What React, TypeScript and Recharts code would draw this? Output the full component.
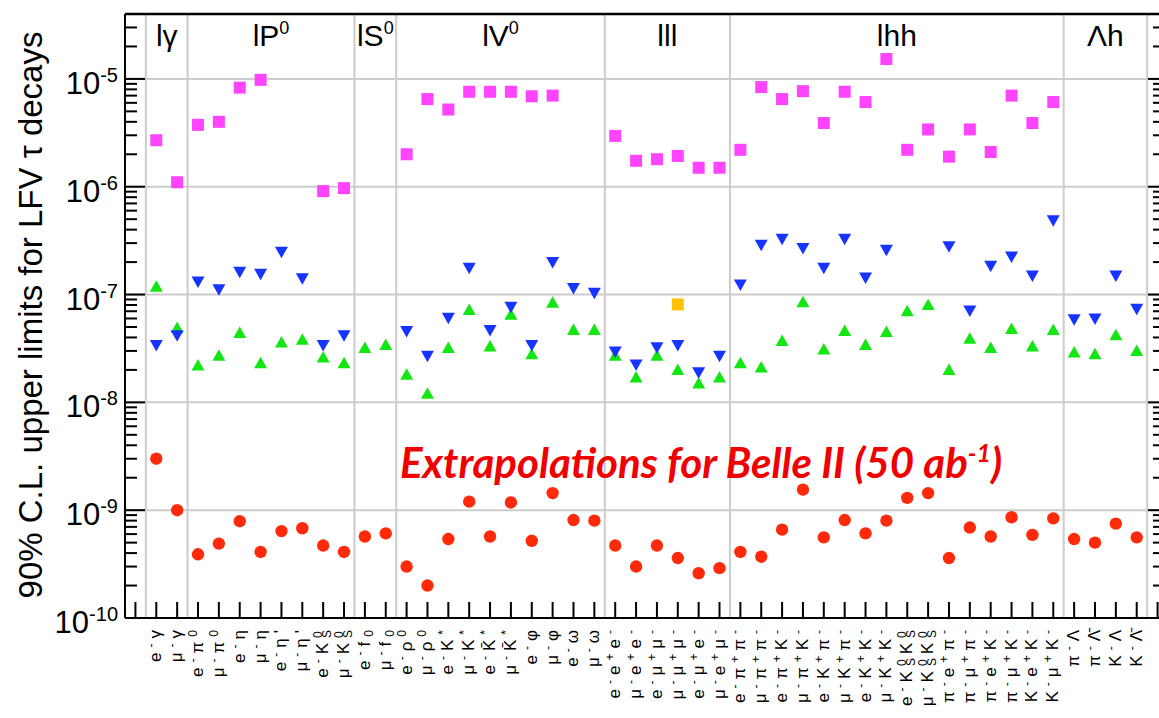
import React from "react";
import { ScatterChart, Scatter, XAxis, YAxis, ReferenceLine } from "recharts";

const FONT = '"Liberation Sans", Arial, Helvetica, sans-serif';

// decay modes, left to right; mode i sits at x = i + 1.5 (bins 0 and 49 stay empty)
const modes = [
  "e^{-}γ", "μ^{-}γ",
  "e^{-}π^{0}", "μ^{-}π^{0}", "e^{-}η", "μ^{-}η", "e^{-}η'", "μ^{-}η'", "e^{-}K_{S}^{0}", "μ^{-}K_{S}^{0}",
  "e^{-}f_{0}", "μ^{-}f_{0}",
  "e^{-}ρ^{0}", "μ^{-}ρ^{0}", "e^{-}K^{*}", "μ^{-}K^{*}", "e^{-}K\u0304^{*}", "μ^{-}K\u0304^{*}",
  "e^{-}φ", "μ^{-}φ", "e^{-}ω", "μ^{-}ω",
  "e^{-}e^{+}e^{-}", "μ^{-}e^{+}e^{-}", "e^{-}μ^{+}μ^{-}", "μ^{-}μ^{+}μ^{-}", "e^{-}μ^{+}e^{-}", "μ^{-}e^{+}μ^{-}",
  "e^{-}π^{+}π^{-}", "μ^{-}π^{+}π^{-}", "e^{-}π^{+}K^{-}", "μ^{-}π^{+}K^{-}",
  "e^{-}K^{+}π^{-}", "μ^{-}K^{+}π^{-}", "e^{-}K^{+}K^{-}", "μ^{-}K^{+}K^{-}",
  "e^{-}K_{S}^{0}K_{S}^{0}", "μ^{-}K_{S}^{0}K_{S}^{0}",
  "π^{-}e^{+}π^{-}", "π^{-}μ^{+}π^{-}", "π^{-}e^{+}K^{-}", "π^{-}μ^{+}K^{-}", "K^{-}e^{+}K^{-}", "K^{-}μ^{+}K^{-}",
  "π^{-}Λ", "π^{-}Λ\u0304", "K^{-}Λ", "K^{-}Λ\u0304",
];

const groupNames = ["lγ", "lP^{0}", "lS^{0}", "lV^{0}", "lll", "lhh", "Λh"];
const groupCenters = [2, 7, 12, 18, 26, 37, 47];
const groupEdges = [1, 3, 11, 13, 23, 29, 45, 49];

const yMajor = [1e-10, 1e-9, 1e-8, 1e-7, 1e-6, 1e-5];
const yMajorLabels = ["10^{-10}", "10^{-9}", "10^{-8}", "10^{-7}", "10^{-6}", "10^{-5}"];

// magenta squares
const olderLimits = [
  2.7e-6, 1.1e-6,
  3.75e-6, 4.0e-6, 8.3e-6, 9.8e-6, null, null, 9.1e-7, 9.7e-7,
  null, null,
  2.0e-6, 6.5e-6, 5.2e-6, 7.6e-6, 7.6e-6, 7.6e-6, 6.9e-6, 7.0e-6, null, null,
  2.96e-6, 1.74e-6, 1.8e-6, 1.93e-6, 1.5e-6, 1.5e-6,
  2.2e-6, 8.4e-6, 6.5e-6, 7.7e-6, 3.9e-6, 7.6e-6, 6.1e-6, 1.53e-5,
  2.2e-6, 3.4e-6, 1.9e-6, 3.4e-6, 2.1e-6, 7.0e-6, 3.9e-6, 6.1e-6,
  null, null, null, null,
];

// blue down triangles
const babarLimits = [
  3.4e-8, 4.2e-8,
  1.32e-7, 1.12e-7, 1.63e-7, 1.56e-7, 2.5e-7, 1.42e-7, 3.4e-8, 4.2e-8,
  null, null,
  4.6e-8, 2.7e-8, 6.1e-8, 1.77e-7, 4.7e-8, 7.7e-8, 3.4e-8, 2.0e-7, 1.15e-7, 1.04e-7,
  2.96e-8, 2.24e-8, 3.25e-8, 3.4e-8, 1.9e-8, 2.7e-8,
  1.24e-7, 2.9e-7, 3.3e-7, 2.7e-7, 1.77e-7, 3.3e-7, 1.44e-7, 2.6e-7,
  null, null, 2.8e-7, 7.1e-8, 1.85e-7, 2.25e-7, 1.5e-7, 4.9e-7,
  5.9e-8, 6.0e-8, 1.5e-7, 7.4e-8,
];

// green up triangles
const belleLimits = [
  1.18e-7, 4.9e-8,
  2.2e-8, 2.7e-8, 4.4e-8, 2.3e-8, 3.6e-8, 3.8e-8, 2.6e-8, 2.3e-8,
  3.2e-8, 3.4e-8,
  1.8e-8, 1.2e-8, 3.2e-8, 7.2e-8, 3.3e-8, 6.5e-8, 2.8e-8, 8.4e-8, 4.7e-8, 4.7e-8,
  2.7e-8, 1.7e-8, 2.7e-8, 2.0e-8, 1.5e-8, 1.7e-8,
  2.3e-8, 2.1e-8, 3.7e-8, 8.5e-8, 3.1e-8, 4.6e-8, 3.4e-8, 4.5e-8,
  7.0e-8, 8.0e-8, 2.0e-8, 3.9e-8, 3.2e-8, 4.8e-8, 3.3e-8, 4.7e-8,
  2.9e-8, 2.8e-8, 4.2e-8, 3.0e-8,
];

// red circles, Belle II 50 ab-1 extrapolation
const belle2Extrap = [
  3.0e-9, 1.0e-9,
  3.9e-10, 4.9e-10, 7.9e-10, 4.1e-10, 6.4e-10, 6.8e-10, 4.7e-10, 4.1e-10,
  5.7e-10, 6.1e-10,
  3.0e-10, 2.0e-10, 5.4e-10, 1.2e-9, 5.7e-10, 1.18e-9, 5.2e-10, 1.44e-9, 8.1e-10, 8.0e-10,
  4.7e-10, 3.0e-10, 4.7e-10, 3.6e-10, 2.6e-10, 2.9e-10,
  4.1e-10, 3.7e-10, 6.6e-10, 1.55e-9, 5.6e-10, 8.1e-10, 6.1e-10, 8.0e-10,
  1.3e-9, 1.44e-9, 3.6e-10, 6.9e-10, 5.7e-10, 8.6e-10, 5.9e-10, 8.4e-10,
  5.4e-10, 5.0e-10, 7.5e-10, 5.6e-10,
];

// orange square (single mode)
const lhcbMode = [25];
const lhcbLimit = [8.1e-8];

const COLORS = {
  older: "#ff44ff",
  babar: "#1733ff",
  belle: "#14e614",
  belle2: "#ff2a0a",
  lhcb: "#ffc200",
};

const xTicks = Array.from({ length: 50 }, (_, i) => i + 0.5);
const yTicks: number[] = [];
yMajor.forEach((m) => {
  for (let k = 1; k <= 9; k++) {
    const v = Number((k * m).toPrecision(3));
    if (v <= 3.01e-5) yTicks.push(v);
  }
});

const toPoints = (vals: (number | null)[]) =>
  vals
    .map((v, i) => (v == null ? null : { x: i + 1.5, y: v }))
    .filter((p) => p !== null) as { x: number; y: number }[];

type Seg = { t: string; k: "n" | "sup" | "sub" };
function parseRich(s: string): Seg[] {
  const out: Seg[] = [];
  const re = /\^\{([^}]*)\}|_\{([^}]*)\}|([^^_]+)/g;
  let m: RegExpExecArray | null;
  while ((m = re.exec(s))) {
    if (m[1] != null) out.push({ t: m[1], k: "sup" });
    else if (m[2] != null) out.push({ t: m[2], k: "sub" });
    else out.push({ t: m[3], k: "n" });
  }
  return out;
}

// backstep: width of one sub glyph, so a sup right after a sub is stacked above it
function richSpans(s: string, small: number, up: number, down: number, backstep = 0) {
  let cur = 0;
  let prev: Seg | null = null;
  return parseRich(s).map((seg, i) => {
    const target = seg.k === "sup" ? -up : seg.k === "sub" ? down : 0;
    const dy = target - cur;
    cur = target;
    const dx = seg.k === "sup" && prev && prev.k === "sub" ? -backstep * prev.t.length : 0;
    prev = seg;
    return (
      <tspan key={i} dy={dy} dx={dx || undefined} fontSize={seg.k === "n" ? undefined : small}>
        {seg.t}
      </tspan>
    );
  });
}

const isMajor = (v: number) => Math.abs(Math.log10(v) - Math.round(Math.log10(v))) < 1e-6;

function BottomTick(props: any) {
  const { x, y, payload } = props;
  const label = modes[Math.round(payload.value - 1.5)];
  return (
    <g>
      <line x1={x} x2={x} y1={y} y2={y - 16} stroke="#000" strokeWidth={2} />
      {label && (
        <g transform={`translate(${x},${y + 7}) rotate(-90)`}>
          <text x={0} y={5} textAnchor="end" fontSize={17} fontFamily={FONT} letterSpacing={5} fill="#000">
            {richSpans(label, 12, 6, 3, 13)}
          </text>
        </g>
      )}
    </g>
  );
}

function GroupTick(props: any) {
  const { x, y, payload } = props;
  const name = groupNames[groupCenters.indexOf(payload.value)];
  return (
    <text x={x} y={y + 32} textAnchor="middle" fontSize={30} fontFamily={FONT} fill="#000">
      {richSpans(name, 18, 12, 6)}
    </text>
  );
}

function LeftTick(props: any) {
  const { x, y, payload } = props;
  const v = payload.value;
  const major = isMajor(v);
  const li = yMajor.findIndex((m) => Math.abs(m - v) / m < 1e-6);
  return (
    <g>
      <line x1={x} x2={x + (major ? 20 : 12)} y1={y} y2={y} stroke="#000" strokeWidth={2} />
      {major && li >= 0 && (
        <text x={x - 7} y={y + 15} textAnchor="end" fontSize={31} fontFamily={FONT} fill="#000">
          {richSpans(yMajorLabels[li], 20, 12, 0)}
        </text>
      )}
    </g>
  );
}

function RightTick(props: any) {
  const { x, y, payload } = props;
  const major = isMajor(payload.value);
  return <line x1={x} x2={x - (major ? 20 : 15)} y1={y} y2={y} stroke="#000" strokeWidth={2} />;
}

const Square = (color: string) => (p: any) =>
  <rect x={p.cx - 6} y={p.cy - 6} width={12} height={12} fill={color} />;
const UpTri = (color: string) => (p: any) =>
  <polygon points={`${p.cx},${p.cy - 6.5} ${p.cx + 6.5},${p.cy + 5} ${p.cx - 6.5},${p.cy + 5}`} fill={color} />;
const DownTri = (color: string) => (p: any) =>
  <polygon points={`${p.cx - 6.5},${p.cy - 5} ${p.cx + 6.5},${p.cy - 5} ${p.cx},${p.cy + 6.5}`} fill={color} />;
const Dot = (color: string) => (p: any) => <circle cx={p.cx} cy={p.cy} r={6.2} fill={color} />;

export default function App() {
  const lhcbPoints = lhcbMode.map((m, i) => ({ x: m + 1.5, y: lhcbLimit[i] }));
  return (
    <div style={{ position: "absolute", left: 0, top: 0, width: 1159, height: 718, overflow: "hidden", background: "#fff" }}>
      <ScatterChart width={1180} height={718} margin={{ top: 13, right: 11, bottom: 0, left: 0 }}>
        <XAxis
          xAxisId="b"
          type="number"
          dataKey="x"
          domain={[0, 50]}
          allowDataOverflow
          ticks={xTicks}
          interval={0}
          height={100}
          tickSize={0}
          tickMargin={0}
          tickLine={false}
          axisLine={{ stroke: "#000", strokeWidth: 2 }}
          tick={BottomTick}
        />
        <XAxis
          xAxisId="t"
          orientation="top"
          type="number"
          dataKey="x"
          domain={[0, 50]}
          allowDataOverflow
          ticks={groupCenters}
          interval={0}
          height={1}
          tickSize={0}
          tickMargin={0}
          tickLine={false}
          axisLine={{ stroke: "#000", strokeWidth: 2.5 }}
          tick={GroupTick}
        />
        <YAxis
          yAxisId="l"
          type="number"
          dataKey="y"
          scale="log"
          domain={[1e-10, 4e-5]}
          allowDataOverflow
          ticks={yTicks}
          interval={0}
          width={125}
          tickSize={0}
          tickMargin={0}
          tickLine={false}
          axisLine={{ stroke: "#000", strokeWidth: 2 }}
          tick={LeftTick}
        />
        <YAxis
          yAxisId="r"
          orientation="right"
          type="number"
          dataKey="y"
          scale="log"
          domain={[1e-10, 4e-5]}
          allowDataOverflow
          ticks={yTicks}
          interval={0}
          width={1}
          tickSize={0}
          tickMargin={0}
          tickLine={false}
          axisLine={{ stroke: "#000", strokeWidth: 2 }}
          tick={RightTick}
        />
        {yMajor.slice(1).map((v) => (
          <ReferenceLine key={`h${v}`} xAxisId="b" yAxisId="l" y={v} stroke="#cccccc" strokeWidth={2} />
        ))}
        {groupEdges.map((v) => (
          <ReferenceLine key={`v${v}`} xAxisId="b" yAxisId="l" x={v} stroke="#cccccc" strokeWidth={2} />
        ))}
        <Scatter xAxisId="b" yAxisId="l" data={toPoints(olderLimits)} shape={Square(COLORS.older)} isAnimationActive={false} />
        <Scatter xAxisId="b" yAxisId="l" data={toPoints(belleLimits)} shape={UpTri(COLORS.belle)} isAnimationActive={false} />
        <Scatter xAxisId="b" yAxisId="l" data={toPoints(babarLimits)} shape={DownTri(COLORS.babar)} isAnimationActive={false} />
        <Scatter xAxisId="b" yAxisId="l" data={toPoints(belle2Extrap)} shape={Dot(COLORS.belle2)} isAnimationActive={false} />
        <Scatter xAxisId="b" yAxisId="l" data={lhcbPoints} shape={Square(COLORS.lhcb)} isAnimationActive={false} />
      </ScatterChart>
      <svg width={1159} height={718} style={{ position: "absolute", left: 0, top: 0, pointerEvents: "none" }}>
        <text transform="translate(42,315) rotate(-90)" textAnchor="middle" fontSize={33} fontFamily={FONT} fill="#000">
          90% C.L. upper limits for LFV τ decays
        </text>
        <text x={400} y={478} fontSize={42} fontFamily="Lato, 'Open Sans', sans-serif" fontStyle="italic" fontWeight={700} fill="#f00000">
          {richSpans("Extrapolations for Belle II (50 ab^{-1})", 25, 16, 0)}
        </text>
      </svg>
    </div>
  );
}
